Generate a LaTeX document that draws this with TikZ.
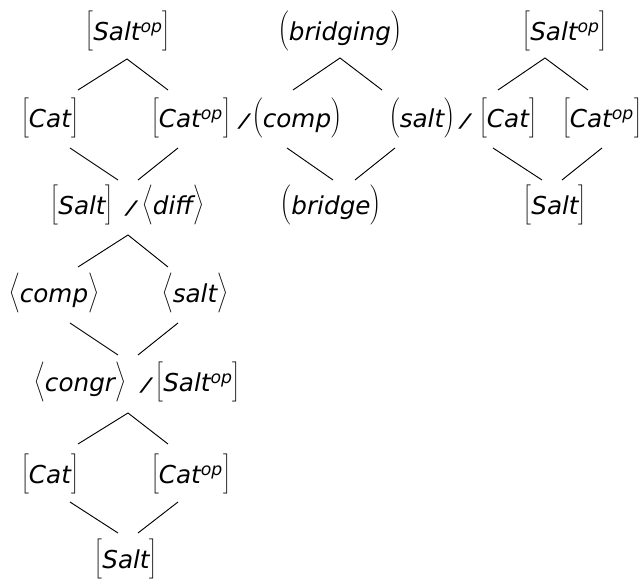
\documentclass[tikz,border=0pt]{standalone}
\usepackage{fontspec}
\usepackage{graphicx}
\setmainfont{DejaVu Sans}
\newcommand\dlm[3]{\fontsize{18.5}{22}\selectfont$\left#1\vrule height 19pt depth 9pt width 0pt\raisebox{-2.9pt}{\itshape #3}\right#2$}
\newcommand\opx{\textsuperscript{op}}
\newcommand\slsh{\scalebox{1.5}[1]{\itshape /}}
\tikzset{
  lbl/.style={inner sep=0pt, outer sep=0pt},
  sl/.style={inner sep=0pt, outer sep=0pt, anchor=base, font=\fontsize{14}{16}\selectfont},
  edge/.style={line width=0.7pt, black}
}
\begin{document}
\begin{tikzpicture}[x=0.75pt, y=-0.75pt]
\useasboundingbox (0,0) rectangle (644,580);
% Row A
\node[lbl] (a1) at (128,31) {\dlm{[}{]}{Salt\opx}};
\node[lbl] (a2) at (340,31) {\dlm{(}{)}{bridging}};
\node[lbl] (a3) at (565,31) {\dlm{[}{]}{Salt\opx}};
% Row B
\node[lbl] (b1) at (50,118) {\dlm{[}{]}{Cat}};
\node[lbl] (b2) at (191,118) {\dlm{[}{]}{Cat\opx}};
\node[sl]  (s1) at (244,128) {\slsh};
\node[lbl] (b3) at (297,118) {\dlm{(}{)}{comp}};
\node[lbl] (b4) at (422,118) {\dlm{(}{)}{salt}};
\node[sl]  (s2) at (465,128) {\slsh};
\node[lbl] (b5) at (508,118) {\dlm{[}{]}{Cat}};
\node[lbl] (b6) at (602,118) {\dlm{[}{]}{Cat\opx}};
% Row C
\node[lbl] (c1) at (82,205) {\dlm{[}{]}{Salt}};
\node[sl]  (s3) at (131,215) {\slsh};
\node[lbl] (c2) at (173,205) {\dlm{\langle}{\rangle}{diff}};
\node[lbl] (c3) at (331,205) {\dlm{(}{)}{bridge}};
\node[lbl] (c4) at (555,205) {\dlm{[}{]}{Salt}};
% Row D
\node[lbl] (d1) at (54,293) {\dlm{\langle}{\rangle}{comp}};
\node[lbl] (d2) at (195,293) {\dlm{\langle}{\rangle}{salt}};
% Row E
\node[lbl] (e1) at (80,382) {\dlm{\langle}{\rangle}{congr}};
\node[sl]  (s4) at (146,392) {\slsh};
\node[lbl] (e2) at (198,382) {\dlm{[}{]}{Salt\opx}};
% Row F
\node[lbl] (f1) at (50,474) {\dlm{[}{]}{Cat}};
\node[lbl] (f2) at (191,474) {\dlm{[}{]}{Cat\opx}};
% Row G
\node[lbl] (g1) at (126,559) {\dlm{[}{]}{Salt}};

% connector coordinates
\coordinate (p1t) at (127,59);  \coordinate (p1l) at (78,90);  \coordinate (p1r) at (168,90);
\coordinate (q1a) at (70,148);  \coordinate (q1b) at (118,180);
\coordinate (q1c) at (178,148); \coordinate (q1d) at (138,180);
\coordinate (p2t) at (128,235); \coordinate (p2l) at (78,267); \coordinate (p2r) at (168,267);
\coordinate (q2a) at (70,323);  \coordinate (q2b) at (118,355);
\coordinate (q2c) at (178,323); \coordinate (q2d) at (138,355);
\coordinate (p3t) at (128,413); \coordinate (p3l) at (78,444); \coordinate (p3r) at (168,444);
\coordinate (q3a) at (70,502);  \coordinate (q3b) at (118,533);
\coordinate (q3c) at (178,502); \coordinate (q3d) at (138,533);
\coordinate (p4t) at (340,58);  \coordinate (p4l) at (293,90); \coordinate (p4r) at (382,90);
\coordinate (q4a) at (287,148); \coordinate (q4b) at (333,180);
\coordinate (q4c) at (395,148); \coordinate (q4d) at (355,180);
\coordinate (p5t) at (545,58);  \coordinate (p5l) at (498,90); \coordinate (p5r) at (588,90);
\coordinate (q5a) at (493,148); \coordinate (q5b) at (542,180);
\coordinate (q5c) at (602,148); \coordinate (q5d) at (562,180);

\draw[edge] (p1l) -- (p1t) -- (p1r);
\draw[edge] (q1a) -- (q1b);
\draw[edge] (q1c) -- (q1d);
\draw[edge] (p2l) -- (p2t) -- (p2r);
\draw[edge] (q2a) -- (q2b);
\draw[edge] (q2c) -- (q2d);
\draw[edge] (p3l) -- (p3t) -- (p3r);
\draw[edge] (q3a) -- (q3b);
\draw[edge] (q3c) -- (q3d);
\draw[edge] (p4l) -- (p4t) -- (p4r);
\draw[edge] (q4a) -- (q4b);
\draw[edge] (q4c) -- (q4d);
\draw[edge] (p5l) -- (p5t) -- (p5r);
\draw[edge] (q5a) -- (q5b);
\draw[edge] (q5c) -- (q5d);
\end{tikzpicture}
\end{document}
